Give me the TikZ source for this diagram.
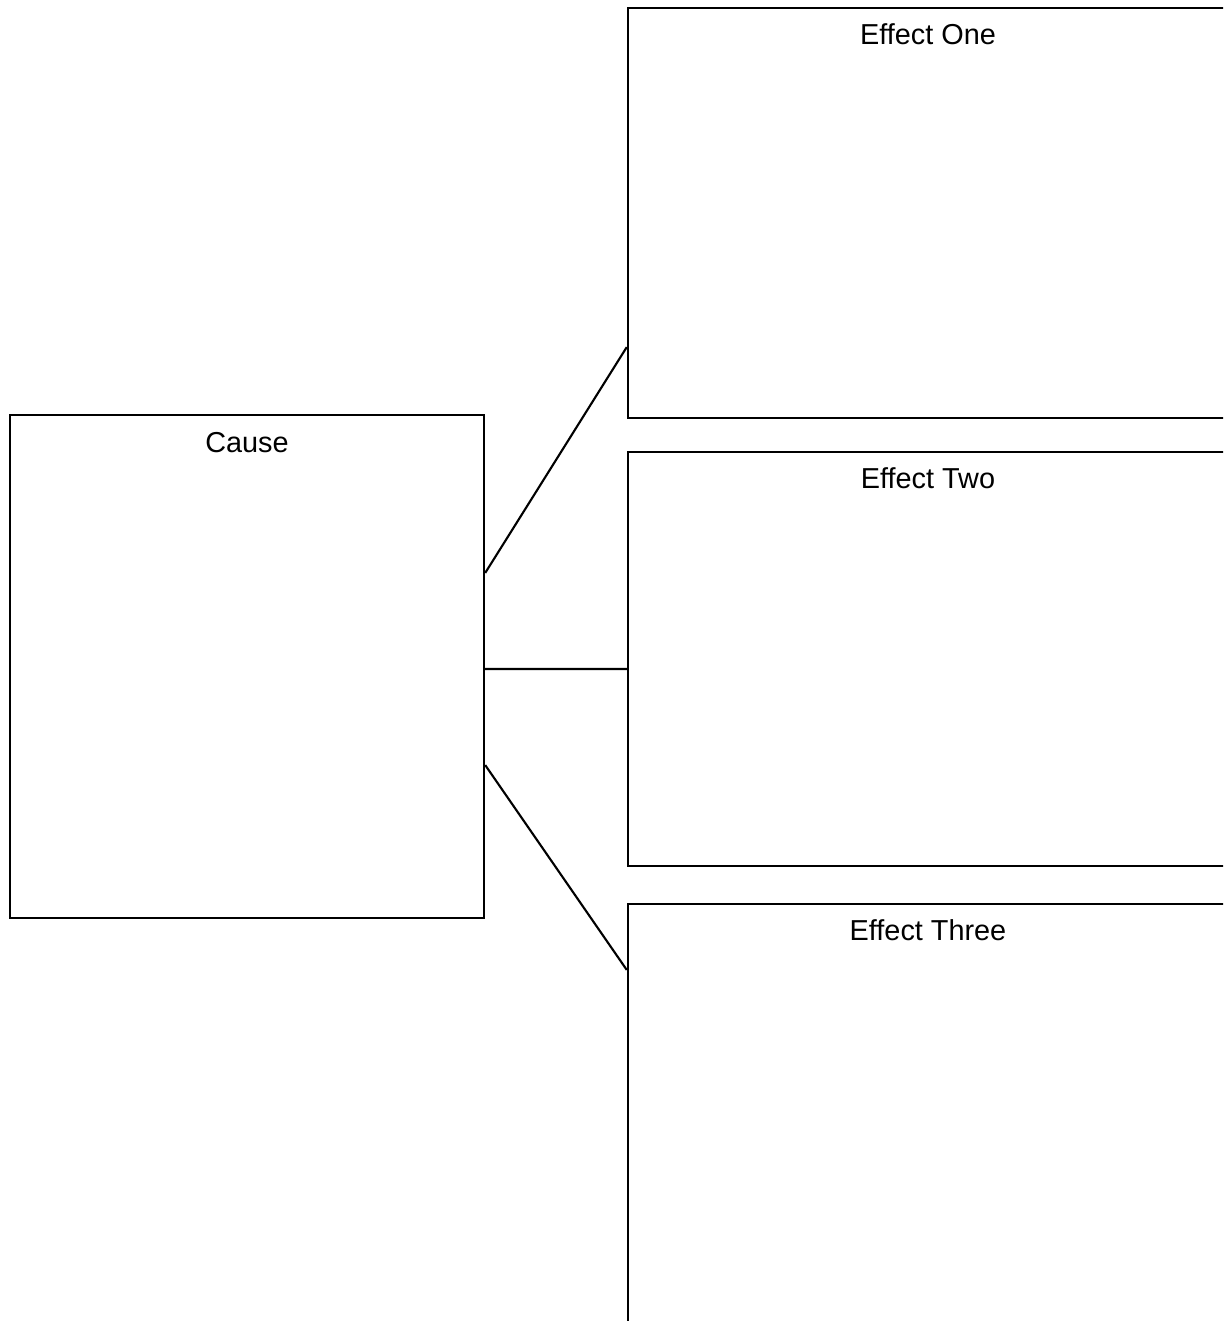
\documentclass[tikz,border=0pt]{standalone}
\usepackage{fontspec}
\setmainfont{Liberation Sans}
\usetikzlibrary{positioning}

\begin{document}
\begin{tikzpicture}[x=0.01cm,y=-0.01cm,
    box/.style={draw,line width=0.6pt,inner sep=0pt},
    title/.style={font=\fontsize{8.2}{10}\selectfont,anchor=base},
    link/.style={line width=0.6pt}]
  \useasboundingbox (0,0) rectangle (1223,1321);
  \clip (0,0) rectangle (1223,1321);
  % boxes
  \node[box,minimum width=4.74cm,minimum height=5.03cm] (cause) at (247,666.5) {};
  \node[box,minimum width=6cm,minimum height=4.1cm] (one) at (928,213) {};
  \node[box,minimum width=6cm,minimum height=4.14cm] (two) at (928,659) {};
  \node[box,minimum width=6cm,minimum height=4.4cm] (three) at (928,1124) {};
  % titles
  \node[title] (causelab) at ([yshift=-0.385cm]cause.north) {Cause};
  \node[title] (onelab) at ([yshift=-0.375cm]one.north) {Effect One};
  \node[title] (twolab) at ([yshift=-0.38cm]two.north) {Effect Two};
  \node[title] (threelab) at ([yshift=-0.38cm]three.north) {Effect Three};
  % links
  \draw[link] ([yshift=0.935cm]cause.east) -- ([yshift=-1.34cm]one.west);
  \draw[link] ([yshift=-0.025cm]cause.east) -- ([yshift=-0.1cm]two.west);
  \draw[link] ([yshift=-0.985cm]cause.east) -- ([yshift=1.54cm]three.west);
\end{tikzpicture}
\end{document}
